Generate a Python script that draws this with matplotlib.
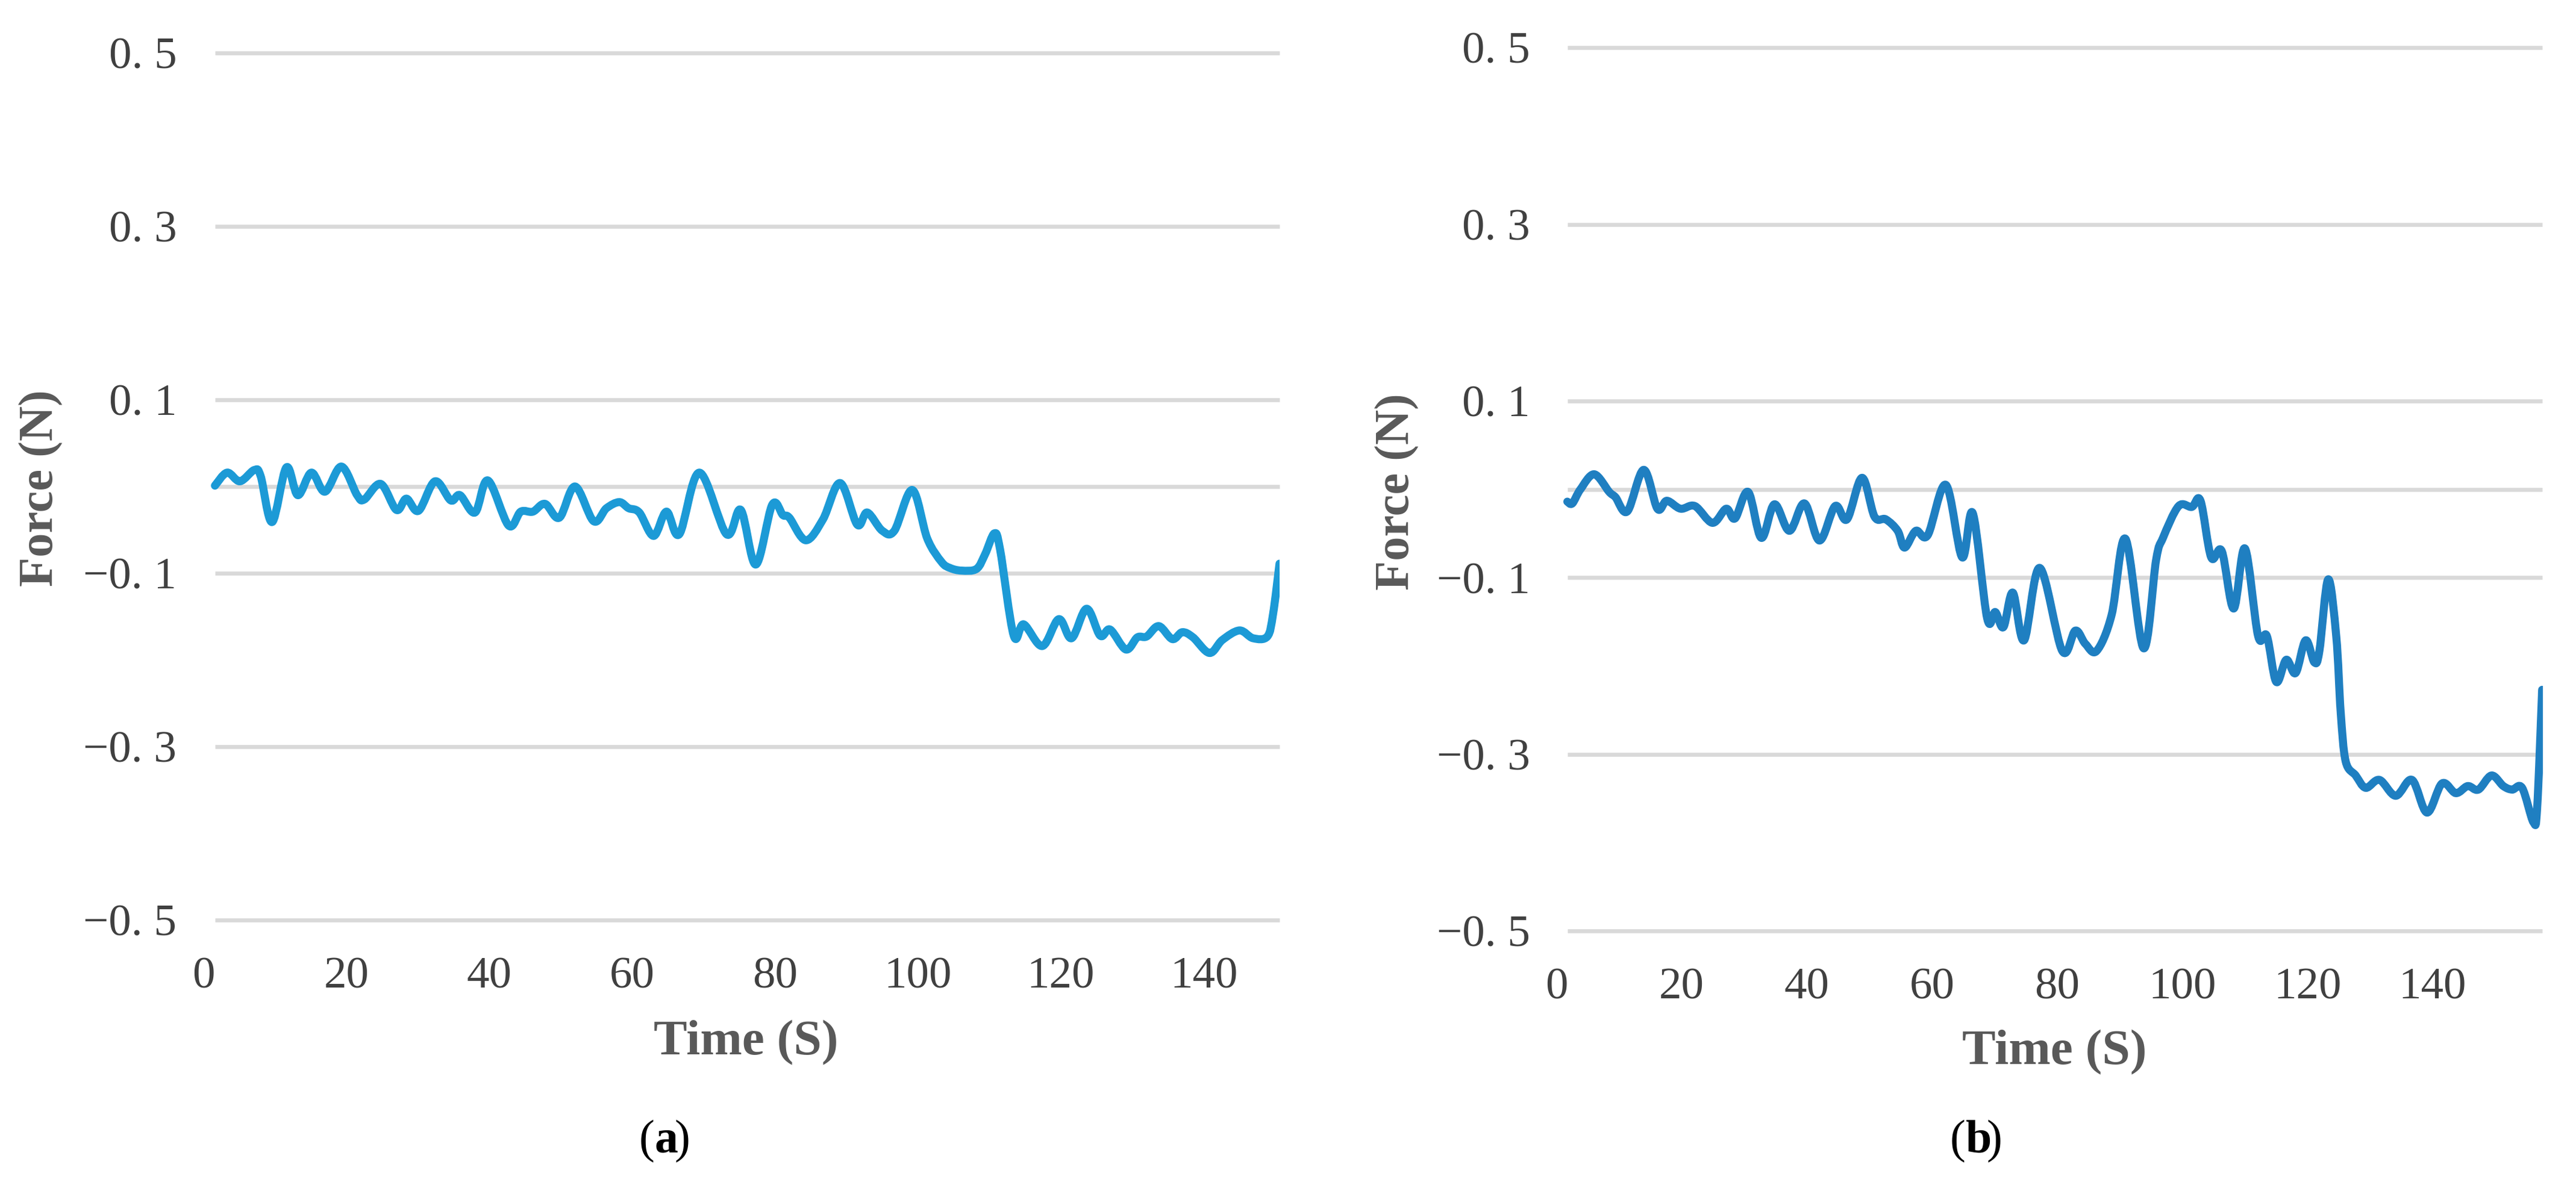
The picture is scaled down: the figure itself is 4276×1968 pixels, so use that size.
import numpy as np
import matplotlib as mpl
from matplotlib import pyplot as plt
from matplotlib.path import Path
from matplotlib.patches import PathPatch

mpl.rcParams["font.family"] = ["Liberation Serif", "DejaVu Serif"]

# panel (a): force
time_a = [1.6, 3.3, 5.1, 7.1, 8.0, 9.6, 11.6, 13.2, 15.1, 17.0, 19.3, 21.5, 22.5,
          24.8, 27.0, 28.4, 30.1, 32.4, 34.6, 35.9, 38.0, 39.8, 42.7, 44.4, 46.1,
          47.8, 49.8, 52.0, 54.6, 56.4, 58.2, 59.5, 61.0, 63.0, 64.8, 66.6, 69.4,
          73.2, 75.2, 77.3, 79.6, 81.1, 82.0, 84.3, 86.7, 89.1, 91.5, 92.9, 95.0,
          96.7, 99.2, 101.3, 103.3, 104.5, 106.1, 108.2, 109.4, 110.7, 111.5, 113.4,
          114.8, 117.4, 119.7, 121.5, 123.6, 125.5, 126.9, 129.1, 130.7, 132.0,
          133.7, 135.6, 137.0, 138.5, 140.8, 142.6, 145.0, 146.9, 148.9, 149.7, 150.6]
force_a = [0.001, 0.016, 0.006, 0.019, 0.012, -0.041, 0.022, -0.010, 0.016, -0.006,
           0.023, -0.010, -0.015, 0.003, -0.027, -0.014, -0.028, 0.006, -0.016, -0.010,
           -0.030, 0.007, -0.045, -0.029, -0.029, -0.020, -0.036, 0.000, -0.040, -0.025,
           -0.018, -0.025, -0.030, -0.057, -0.029, -0.055, 0.016, -0.055, -0.027, -0.090,
           -0.021, -0.033, -0.036, -0.062, -0.038, 0.004, -0.044, -0.030, -0.051, -0.051,
           -0.004, -0.060, -0.087, -0.094, -0.097, -0.095, -0.078, -0.054, -0.073, -0.172,
           -0.159, -0.184, -0.153, -0.175, -0.141, -0.172, -0.165, -0.188, -0.174, -0.173,
           -0.161, -0.176, -0.168, -0.174, -0.192, -0.177, -0.166, -0.175, -0.173, -0.147,
           -0.089]

# panel (b)
time_b = [1.7, 2.5, 3.8, 6.0, 8.4, 9.4, 11.3, 13.9, 16.1, 17.6, 19.8, 22.1, 24.9, 27.1,
          28.5, 30.6, 32.7, 34.8, 37.2, 39.6, 42.0, 44.5, 46.4, 48.8, 50.8, 52.6, 54.5,
          55.6, 57.4, 59.3, 62.2, 64.8, 66.5, 68.8, 70.1, 71.4, 72.9, 74.7, 77.2, 80.8,
          82.9, 84.5, 86.3, 88.7, 90.9, 93.8, 95.8, 96.9, 99.4, 101.5, 102.9, 104.6,
          106.3, 108.2, 110.0, 112.1, 113.5, 115.0, 116.6, 118.1, 119.7, 121.1, 121.9,
          123.3, 124.6, 125.3, 126.1, 127.7, 129.3, 131.5, 134.1, 136.7, 139.1, 141.5,
          143.7, 145.6, 147.3, 149.4, 151.3, 152.7, 154.3, 156.1, 156.7, 157.5]
force_b = [-0.014, -0.016, 0.000, 0.017, -0.003, -0.009, -0.025, 0.022, -0.022, -0.013,
           -0.022, -0.019, -0.038, -0.022, -0.033, -0.003, -0.055, -0.017, -0.047, -0.016,
           -0.058, -0.019, -0.034, 0.013, -0.031, -0.034, -0.047, -0.066, -0.047, -0.052,
           0.005, -0.077, -0.027, -0.146, -0.139, -0.156, -0.117, -0.171, -0.089, -0.183,
           -0.160, -0.175, -0.183, -0.142, -0.056, -0.180, -0.080, -0.055, -0.019, -0.020,
           -0.013, -0.077, -0.070, -0.135, -0.067, -0.166, -0.166, -0.218, -0.193, -0.208,
           -0.171, -0.196, -0.183, -0.102, -0.167, -0.252, -0.308, -0.324, -0.338, -0.329,
           -0.347, -0.329, -0.366, -0.333, -0.344, -0.336, -0.340, -0.324, -0.336, -0.340,
           -0.338, -0.377, -0.361, -0.227]

y_ticks = [-0.5, -0.3, -0.1, 0.1, 0.3, 0.5]
y_labels = ["\u22120. 5", "\u22120. 3", "\u22120. 1", "0. 1", "0. 3", "0. 5"]
x_ticks = [0, 20, 40, 60, 80, 100, 120, 140]


def smooth_path(x, y):
    # excel-like smoothed line: catmull-rom segments as cubic beziers
    p = np.column_stack([x, y])
    verts = [p[0]]
    codes = [Path.MOVETO]
    for i in range(len(p) - 1):
        p0 = p[max(i - 1, 0)]
        p1, p2 = p[i], p[i + 1]
        p3 = p[min(i + 2, len(p) - 1)]
        verts += [p1 + (p2 - p0) / 6, p2 - (p3 - p1) / 6, p2]
        codes += [Path.CURVE4] * 3
    return Path(verts, codes)


fig = plt.figure(figsize=(21.38, 9.84), dpi=200)

panels = [
    (time_a, force_a, "#1C9AD6", [0.0790, 0.2236, 0.4177, 0.7317], 150.6,
     (0.0159, 0.588), (0.2895, 0.120), (0.254, 0.037), "a"),
    (time_b, force_b, "#1F7FC1", [0.6043, 0.2144, 0.3828, 0.7454], 157.6,
     (0.5424, 0.585), (0.7975, 0.112), (0.763, 0.037), "b"),
]

for t, f, col, rect, xmax, ylab_pos, xlab_pos, tag_pos, tag in panels:
    ax = fig.add_axes(rect)
    ax.set_xlim(0, xmax)
    ax.set_ylim(-0.5, 0.5)
    for s in ax.spines.values():
        s.set_visible(False)
    ax.hlines(y_ticks + [0.0], t[0], t[-1], colors="#D9D9D9", lw=2.4,
              zorder=1, clip_on=False)
    ax.add_patch(PathPatch(smooth_path(t, f), fill=False, edgecolor=col,
                           lw=4.8, capstyle="round", joinstyle="round", zorder=3))
    ax.set_yticks(y_ticks)
    ax.set_yticklabels(y_labels)
    ax.set_xticks(x_ticks)
    ax.tick_params(length=0, labelsize=27, labelcolor="#404040")
    ax.tick_params(axis="y", pad=16)
    ax.tick_params(axis="x", pad=22)

    fig.text(*ylab_pos, "Force (N)", rotation=90, ha="center", va="center",
             fontsize=29, fontweight="bold", color="#595959")
    fig.text(*xlab_pos, "Time (S)", ha="center", va="center",
             fontsize=30, fontweight="bold", color="#595959")
    fig.text(*tag_pos, "(", ha="right", va="center", fontsize=28, color="black")
    fig.text(tag_pos[0], tag_pos[1], tag, ha="left", va="center", fontsize=28,
             fontweight="bold", color="black")
    fig.text(tag_pos[0] + 0.0077 if tag == "a" else tag_pos[0] + 0.0082, tag_pos[1],
             ")", ha="left", va="center", fontsize=28, color="black")

fig.savefig("out.png", dpi=200)
plt.close(fig)
